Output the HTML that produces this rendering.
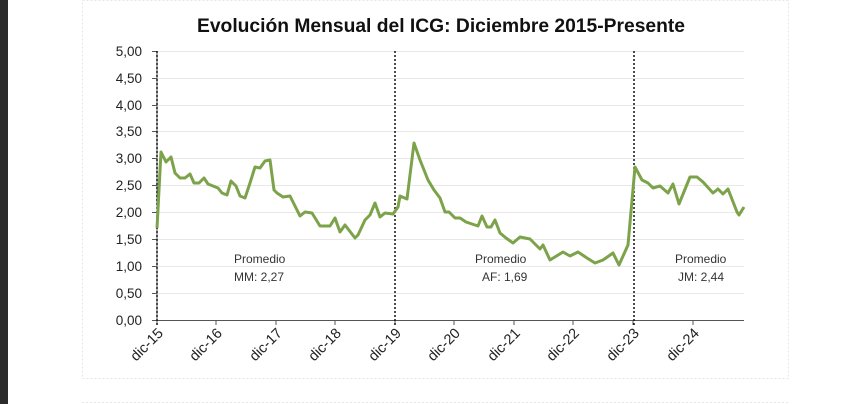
<!DOCTYPE html>
<html><head><meta charset="utf-8"><style>
body{margin:0;background:#fff;width:862px;height:404px;overflow:hidden;font-family:"Liberation Sans",Carlito,sans-serif}
</style></head><body>
<svg width="862" height="404" xmlns="http://www.w3.org/2000/svg" style="position:absolute;left:0;top:0">
<rect x="0" y="0" width="8" height="404" fill="#2b2b2b"/>
<rect x="82.5" y="0.5" width="706" height="378" fill="none" stroke="#e6e6e6" stroke-dasharray="2,2"/>
<line x1="82" y1="402.5" x2="788" y2="402.5" stroke="#e6e6e6" stroke-dasharray="2,2"/>
<text x="441" y="32" text-anchor="middle" font-size="19" font-weight="bold" fill="#111" textLength="488" lengthAdjust="spacingAndGlyphs">Evolución Mensual del ICG: Diciembre 2015-Presente</text>
<g stroke="#e8e8e8" stroke-width="1">
<line x1="152" x2="744" y1="51.5" y2="51.5"/><line x1="152" x2="744" y1="78.5" y2="78.5"/>
<line x1="152" x2="744" y1="105.5" y2="105.5"/><line x1="152" x2="744" y1="131.5" y2="131.5"/>
<line x1="152" x2="744" y1="158.5" y2="158.5"/><line x1="152" x2="744" y1="185.5" y2="185.5"/>
<line x1="152" x2="744" y1="212.5" y2="212.5"/><line x1="152" x2="744" y1="239.5" y2="239.5"/>
<line x1="152" x2="744" y1="266.5" y2="266.5"/><line x1="152" x2="744" y1="293.5" y2="293.5"/>
</g>
<g stroke="#555" stroke-width="1">
<line x1="157" y1="51" x2="157" y2="320"/>
<line x1="152" x2="157" y1="51.5" y2="51.5"/><line x1="152" x2="157" y1="78.5" y2="78.5"/>
<line x1="152" x2="157" y1="105.5" y2="105.5"/><line x1="152" x2="157" y1="131.5" y2="131.5"/>
<line x1="152" x2="157" y1="158.5" y2="158.5"/><line x1="152" x2="157" y1="185.5" y2="185.5"/>
<line x1="152" x2="157" y1="212.5" y2="212.5"/><line x1="152" x2="157" y1="239.5" y2="239.5"/>
<line x1="152" x2="157" y1="266.5" y2="266.5"/><line x1="152" x2="157" y1="293.5" y2="293.5"/>
<line x1="152" x2="744" y1="320.5" y2="320.5"/>
<line x1="216" x2="216" y1="320" y2="325"/><line x1="276" x2="276" y1="320" y2="325"/>
<line x1="335" x2="335" y1="320" y2="325"/><line x1="395" x2="395" y1="320" y2="325"/>
<line x1="454" x2="454" y1="320" y2="325"/><line x1="514" x2="514" y1="320" y2="325"/>
<line x1="573" x2="573" y1="320" y2="325"/><line x1="633" x2="633" y1="320" y2="325"/>
<line x1="693" x2="693" y1="320" y2="325"/><line x1="157" x2="157" y1="320" y2="325"/>
</g>
<g stroke="#111" stroke-width="1.5" stroke-dasharray="2,2">
<line x1="157" y1="51" x2="157" y2="326"/>
<line x1="395" y1="51" x2="395" y2="326"/>
<line x1="634" y1="51" x2="634" y2="326"/>
</g>
<g font-size="13.5" fill="#222" text-anchor="end">
<text x="142" y="56">5,00</text><text x="142" y="83">4,50</text><text x="142" y="110">4,00</text>
<text x="142" y="136">3,50</text><text x="142" y="163">3,00</text><text x="142" y="190">2,50</text>
<text x="142" y="217">2,00</text><text x="142" y="244">1,50</text><text x="142" y="271">1,00</text>
<text x="142" y="298">0,50</text><text x="142" y="325">0,00</text>
</g>
<g font-size="14.5" fill="#222" text-anchor="end">
<text transform="translate(164,334) rotate(-45)">dic-15</text>
<text transform="translate(223,334) rotate(-45)">dic-16</text>
<text transform="translate(283,334) rotate(-45)">dic-17</text>
<text transform="translate(342,334) rotate(-45)">dic-18</text>
<text transform="translate(402,334) rotate(-45)">dic-19</text>
<text transform="translate(461,334) rotate(-45)">dic-20</text>
<text transform="translate(521,334) rotate(-45)">dic-21</text>
<text transform="translate(580,334) rotate(-45)">dic-22</text>
<text transform="translate(640,334) rotate(-45)">dic-23</text>
<text transform="translate(700,334) rotate(-45)">dic-24</text>
</g>
<g font-size="12" fill="#333">
<text x="234" y="263">Promedio</text><text x="234" y="281">MM: 2,27</text>
<text x="475" y="263">Promedio</text><text x="482" y="281">AF: 1,69</text>
<text x="675" y="263">Promedio</text><text x="678" y="281">JM: 2,44</text>
</g>
<polyline fill="none" stroke="#7ca34a" stroke-width="3" stroke-linejoin="round" points="157,228 161,152 166,162 171,157 175,173 180,178 185,178 190,174 194,183 199,183 204,178 208,184 213,186 218,188 222,193 227,195 231,181 236,186 240,196 245,198 250,183 255,167 260,168 265,161 270,160 274,190 277,193 283,197 290,196 293,202 300,216 305,212 312,213 320,226 330,226 335,218 340,232 345,225 355,238 358,235 365,220 370,215 375,203 380,217 385,213 393,214 398,207 400,196 407,199 414,143 420,160 428,180 434,190 440,198 445,212 449,212 455,218 460,218 466,222 472,224 478,226 482,216 487,227 491,227 495,220 500,233 506,238 513,243 520,237 530,239 540,249 543,245 550,260 563,252 570,256 578,252 587,258 595,263 603,260 613,253 619,265 628,245 635,167 642,180 648,183 653,188 660,186 668,193 673,184 679,204 690,177 697,177 703,182 713,193 718,189 723,194 728,189 737,212 739,215 744,207"/>
</svg>
</body></html>
